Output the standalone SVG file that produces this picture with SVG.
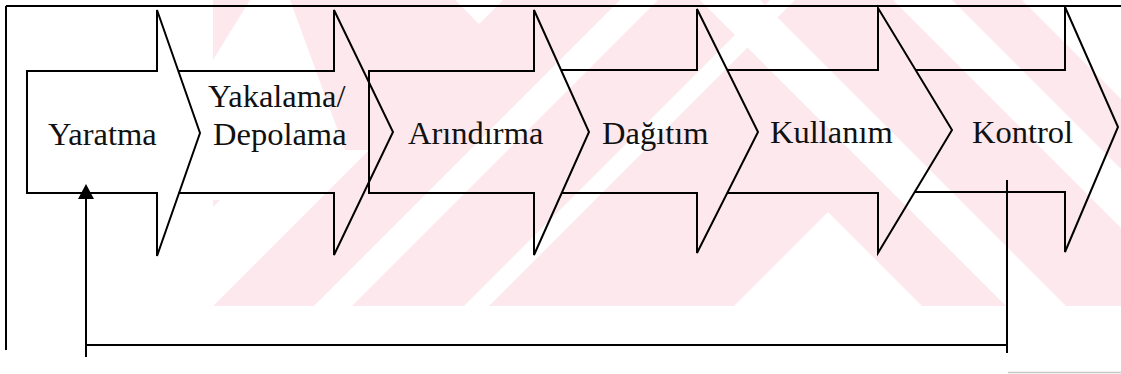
<svg xmlns="http://www.w3.org/2000/svg" width="1121" height="374" viewBox="0 0 1121 374">
  <defs>
    <style>
      .shape { fill: none; stroke: #000; stroke-width: 2; stroke-linejoin: miter; }
      .line { fill: none; stroke: #000; stroke-width: 2; }
      .lbl { font-family: "Liberation Serif", "Times New Roman", serif; font-size: 32.5px; fill: #111; }
      .wm { fill: #fde9ed; }
      .wmw { fill: #fff; }
    </style>
    <clipPath id="wmclip">
      <rect x="213" y="0" width="908" height="306"/>
    </clipPath>
  </defs>
  <rect width="1121" height="374" fill="#fff"/>

  <g id="watermark" clip-path="url(#wmclip)">
    <rect class="wm" x="213" y="0" width="908" height="306"/>
    <polygon class="wmw" points="620,0 658,0 352,306 314,306"/>
    <polygon class="wmw" points="770,0 795,0 489,306 464,306"/>
    <polygon class="wmw" points="700,0 760,0 1066,306 1006,306"/>
    <polygon class="wmw" points="893,0 952,0 1258,306 1199,306"/>
    <polygon class="wmw" points="1022,0 1121,0 1121,99"/>
    <polygon class="wmw" points="455,0 503,0 479,24"/>
    <polygon class="wmw" points="734,306 828,212 922,306"/>
    <polygon class="wmw" points="270,150 369,150 213,306 213,207"/>
    <polygon class="wmw" points="250,0 290,0 345,150 300,200 213,200 213,60"/>
  </g>

  <g id="frame">
    <line class="line" x1="6" y1="6" x2="1121" y2="6"/>
    <line class="line" x1="6" y1="6" x2="6" y2="350"/>
    <line x1="1008" y1="372.5" x2="1121" y2="372.5" stroke="#c8c8c8" stroke-width="1.5"/>
  </g>

  <g id="node-yaratma">
    <path class="shape" d="M27,71 H157 V10 L200,133 L157,256 V193 H27 Z"/>
    <text class="lbl" x="48" y="145">Yaratma</text>
  </g>
  <g id="node-yakalama">
    <path class="shape" d="M178.5,71 H334 V10 L393,132 L334,255 V193 H178.5"/>
    <text class="lbl" x="208" y="107">Yakalama/</text>
    <text class="lbl" x="213" y="145">Depolama</text>
  </g>
  <g id="node-arindirma">
    <path class="shape" d="M369,71 H534 V10 L589,132 L534,255 V193 H369 Z"/>
    <text class="lbl" x="408" y="144">Arındırma</text>
  </g>
  <g id="node-dagitim">
    <path class="shape" d="M561.5,70 H697 V9 L758,132 L697,253 V193 H561.5"/>
    <text class="lbl" x="602" y="144">Dağıtım</text>
  </g>
  <g id="node-kullanim">
    <path class="shape" d="M727,70 H878 V8 L952,130 L878,253 V193 H727"/>
    <text class="lbl" x="770" y="143">Kullanım</text>
  </g>
  <g id="node-kontrol">
    <path class="shape" d="M915,70 H1065 V7 L1118,127 L1065,252 V192 H914"/>
    <text class="lbl" x="972" y="143">Kontrol</text>
  </g>

  <g id="connectors">
    <polyline class="line" points="1007,180 1007,353"/>
    <line class="line" x1="86" y1="345" x2="1008" y2="345"/>
    <line class="line" x1="86" y1="357" x2="86" y2="197"/>
    <polygon points="86,184 78,199 94,199" fill="#000"/>
  </g>
</svg>
